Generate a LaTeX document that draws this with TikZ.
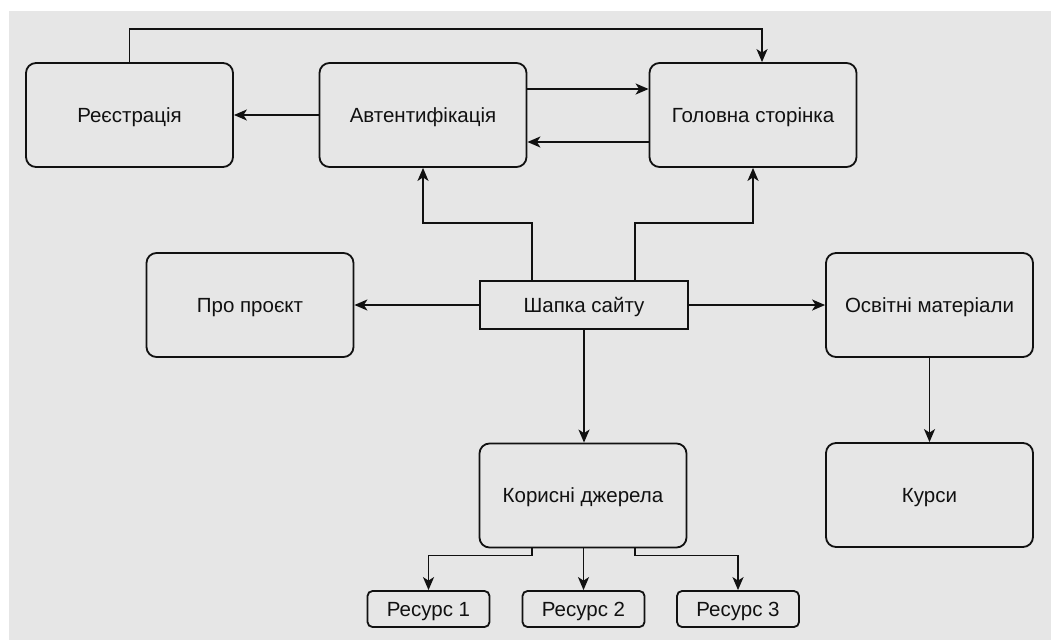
\documentclass[tikz,border=0pt]{standalone}
\usepackage{fontspec}
\setmainfont{Liberation Sans}
\usetikzlibrary{arrows.meta}
\definecolor{bggray}{HTML}{E6E6E6}
\definecolor{ink}{HTML}{111111}
\tikzset{
  lbl/.style={inner sep=0pt, font=\fontsize{20.5}{24}\selectfont, text=ink, text height=14.5pt, text depth=0pt},
  box/.style={lbl, draw=ink, line width=1.8pt, rounded corners=10pt, minimum width=207pt, minimum height=104pt},
  hdr/.style={lbl, draw=ink, line width=1.8pt, minimum width=208pt, minimum height=48pt},
  res/.style={lbl, draw=ink, line width=1.8pt, rounded corners=5pt, minimum width=122pt, minimum height=36pt},
  arr/.style={draw=ink, line width=1.8pt, -{Stealth[length=13pt,width=11pt,inset=3.5pt]}}
}
\begin{document}
\begin{tikzpicture}[x=1pt,y=-1pt]
\fill[white] (0,0) rectangle (1051,640);
\fill[bggray] (9,11) rectangle (1051,640);
\useasboundingbox (0,0) rectangle (1051,640);

\node[box] (reg) at (129.5,115) {Реєстрація};
\node[box] (auth) at (423,115) {Автентифікація};
\node[box] (main) at (753,115) {Головна сторінка};
\node[box] (about) at (250,305) {Про проєкт};
\node[hdr] (head) at (584,305) {Шапка сайту};
\node[box] (edu) at (929.5,305) {Освітні матеріали};
\node[box] (courses) at (929.5,495) {Курси};
\node[box] (useful) at (583,495.5) {Корисні джерела};
\node[res] (r1) at (428.5,609) {Ресурс 1};
\node[res] (r2) at (583.5,609) {Ресурс 2};
\node[res] (r3) at (738,609) {Ресурс 3};

\coordinate (topy) at (0,29);
\draw[arr] (reg.north) -- (reg.north |- topy) -| ([xshift=9pt]main.north);
\draw[arr] ([yshift=26pt]auth.east) -- ([yshift=26pt]main.west);
\draw[arr] ([yshift=-27pt]main.west) -- ([yshift=-27pt]auth.east);
\draw[arr] (auth.west) -- (reg.east);
\draw[arr] ([xshift=-52pt]head.north) -- ++(0,-57) -| (auth.south);
\draw[arr] ([xshift=51pt]head.north) -- ++(0,-57) -| (main.south);
\draw[arr] (head.west) -- (about.east);
\draw[arr] (head.east) -- (edu.west);
\draw[arr] (head.south) -- (head.south |- useful.north);
\draw[arr] (edu.south) -- (courses.north);
\draw[arr] ([xshift=-51pt]useful.south) -- ++(0,7) -| (r1.north);
\draw[arr] (useful.south) -- (useful.south -| r2.north) -- (r2.north);
\draw[arr] ([xshift=52pt]useful.south) -- ++(0,7) -| (r3.north);
\end{tikzpicture}
\end{document}
